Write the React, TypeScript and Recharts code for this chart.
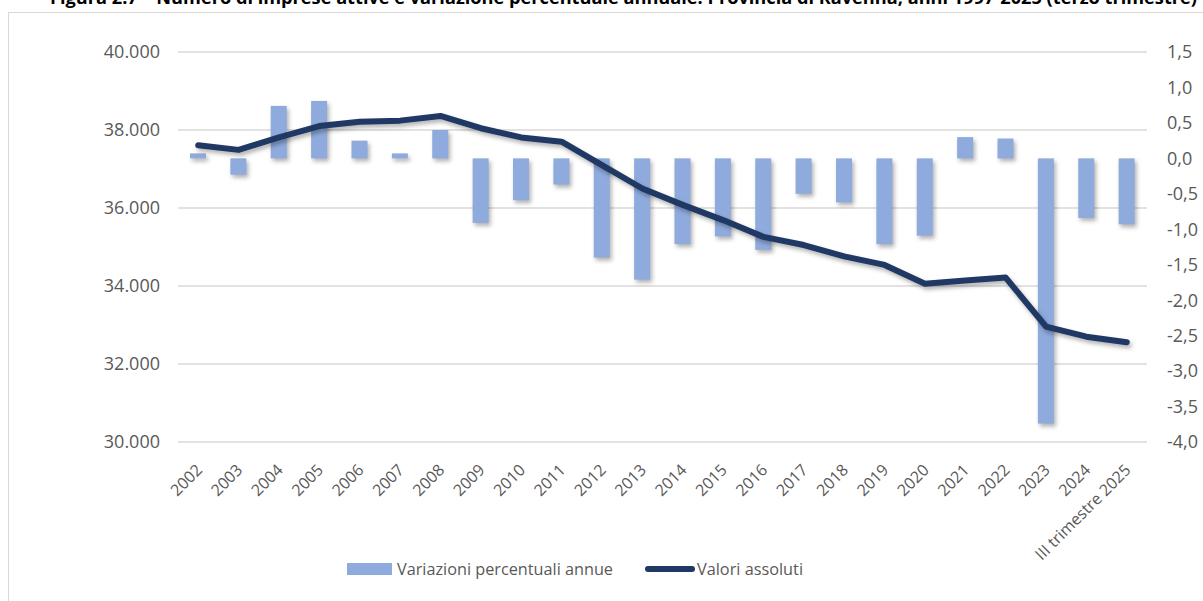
import { ComposedChart, Bar, Line, XAxis, YAxis, CartesianGrid } from 'recharts';

const years = [
  '2002', '2003', '2004', '2005', '2006', '2007', '2008', '2009', '2010', '2011', '2012', '2013',
  '2014', '2015', '2016', '2017', '2018', '2019', '2020', '2021', '2022', '2023', '2024', 'III trimestre 2025',
];

// numero di imprese attive (asse sinistro)
const valoriAssoluti = [
  37610, 37490, 37810, 38100, 38210, 38240, 38360, 38045, 37810, 37700, 37100, 36500,
  36080, 35690, 35260, 35050, 34760, 34540, 34060, 34140, 34215, 32960, 32700, 32560,
];

// variazione percentuale annua (asse destro)
const variazioni = [
  0.07, -0.23, 0.74, 0.81, 0.25, 0.07, 0.4, -0.91, -0.59, -0.37, -1.4, -1.71,
  -1.21, -1.1, -1.29, -0.5, -0.62, -1.21, -1.09, 0.3, 0.28, -3.74, -0.84, -0.93,
];

const leftTicks = [30000, 32000, 34000, 36000, 38000, 40000];
const rightTicks = [1.5, 1, 0.5, 0, -0.5, -1, -1.5, -2, -2.5, -3, -3.5, -4];

const TITLE =
  'Figura 2.7 – Numero di imprese attive e variazione percentuale annuale. Provincia di Ravenna, anni 1997-2025 (terzo trimestre)';

const data = years.map((year, i) => ({
  year,
  valore: valoriAssoluti[i],
  variazione: variazioni[i],
}));

const FONT = "'Open Sans', sans-serif";
const TEXT = '#595959';
const BAR = '#8FAADC';
const LINE = '#203864';

const fmtThousands = (v: number) => String(v).replace(/\B(?=(\d{3})+(?!\d))/g, '.');
const fmtPct = (v: number) => v.toFixed(1).replace('.', ',');

const XTick = ({ x, y, payload }: any) => (
  <g transform={`translate(${x + 5},${y + 29})`}>
    <text x={0} y={0} textAnchor="end" transform="rotate(-45)" fill={TEXT} fontSize={16} fontFamily={FONT}>
      {payload.value}
    </text>
  </g>
);

const BarShape = (props: any) => {
  const { x, y, width, height } = props;
  const top = Math.min(y, y + height);
  return <rect x={x} y={top} width={width} height={Math.abs(height)} fill={BAR} />;
};

export default function App() {
  return (
    <div style={{ position: 'absolute', left: 0, top: 0, width: 1203, height: 601, overflow: 'hidden', background: '#fff' }}>
      <style>{`
        .shadowed { filter: drop-shadow(2px 3px 2px rgba(0,0,0,0.3)); }
      `}</style>
      <div
        style={{
          position: 'absolute',
          left: 8,
          top: 12,
          width: 1400,
          height: 800,
          border: '1.5px solid #D9D9D9',
        }}
      />
      <svg style={{ position: 'absolute', left: 0, top: 0 }} width={1203} height={20}>
        <text
          x={50}
          y={4}
          fontSize={17}
          fontWeight="bold"
          fontFamily="'Liberation Sans Narrow', 'Open Sans', sans-serif"
          fill="#000"
          textLength={1147}
          lengthAdjust="spacingAndGlyphs"
        >
          {TITLE}
        </text>
      </svg>
      <div style={{ position: 'absolute', left: 0, top: 0 }}>
        <ComposedChart width={1203} height={601} data={data} margin={{ top: 52, right: 0, bottom: 0, left: 0 }}>
          <CartesianGrid yAxisId="left" vertical={false} stroke="#D9D9D9" strokeWidth={1.5} />
          <XAxis
            dataKey="year"
            interval={0}
            height={159}
            axisLine={false}
            tickLine={false}
            tickSize={0}
            tickMargin={0}
            tick={<XTick />}
          />
          <YAxis
            yAxisId="left"
            width={178}
            domain={[30000, 40000]}
            ticks={leftTicks}
            tickFormatter={fmtThousands}
            axisLine={false}
            tickLine={false}
            tickSize={0}
            tickMargin={18}
            tick={{ fill: TEXT, fontSize: 18, fontFamily: FONT }}
          />
          <YAxis
            yAxisId="right"
            orientation="right"
            width={56}
            domain={[-4, 1.5]}
            ticks={rightTicks}
            tickFormatter={fmtPct}
            axisLine={false}
            tickLine={false}
            tickSize={0}
            tickMargin={20}
            tick={{ fill: TEXT, fontSize: 18, fontFamily: FONT, textAnchor: 'start' }}
          />
          <Bar
            yAxisId="right"
            dataKey="variazione"
            name="Variazioni percentuali annue"
            barSize={16}
            className="shadowed"
            shape={<BarShape />}
            isAnimationActive={false}
          />
          <Line
            yAxisId="left"
            dataKey="valore"
            name="Valori assoluti"
            type="linear"
            stroke={LINE}
            strokeWidth={6}
            strokeLinecap="round"
            strokeLinejoin="round"
            dot={false}
            activeDot={false}
            className="shadowed"
            isAnimationActive={false}
          />
        </ComposedChart>
      </div>
      <svg style={{ position: 'absolute', left: 0, top: 550 }} width={1203} height={40}>
        <rect x={347} y={13} width={45} height={12} fill={BAR} />
        <text x={397} y={25} fontSize={17} fontFamily={FONT} fill={TEXT} textLength={216} lengthAdjust="spacingAndGlyphs">
          Variazioni percentuali annue
        </text>
        <line x1={648} y1={19} x2={692} y2={19} stroke={LINE} strokeWidth={6} strokeLinecap="round" />
        <text x={697} y={25} fontSize={17} fontFamily={FONT} fill={TEXT} textLength={106} lengthAdjust="spacingAndGlyphs">
          Valori assoluti
        </text>
      </svg>
    </div>
  );
}
